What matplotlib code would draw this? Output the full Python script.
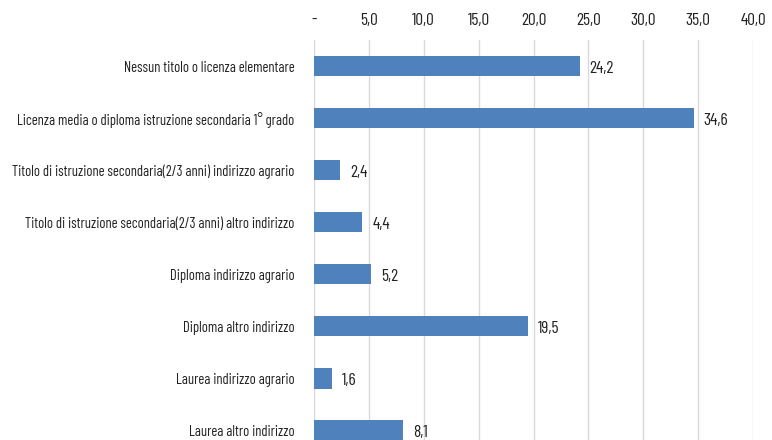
import matplotlib.pyplot as plt

# dati
categorie = [
    "Nessun titolo o licenza elementare",
    "Licenza media o diploma istruzione secondaria 1° grado",
    "Titolo di istruzione secondaria(2/3 anni) indirizzo agrario",
    "Titolo di istruzione secondaria(2/3 anni) altro indirizzo",
    "Diploma indirizzo agrario",
    "Diploma altro indirizzo",
    "Laurea indirizzo agrario",
    "Laurea altro indirizzo",
]
valori = [24.2, 34.6, 2.4, 4.4, 5.2, 19.5, 1.6, 8.1]
tick_valori = [0, 5, 10, 15, 20, 25, 30, 35, 40]
tick_etichette = ["-", "5,0", "10,0", "15,0", "20,0", "25,0", "30,0", "35,0", "40,0"]

plt.rcParams['font.family'] = ['Barlow Condensed', 'DejaVu Sans']

fig = plt.figure(figsize=(7.72, 4.4), dpi=100)
ax = fig.add_axes([314 / 772, 0, 439 / 772, 400 / 440])

y = list(range(len(categorie)))
ax.barh(y, valori, height=0.4, color='#4f81bd', zorder=3)

for yi, v in zip(y, valori):
    ax.text(v + 0.9, yi + 0.05, f"{v:.1f}".replace(".", ","), va='center', ha='left',
            fontsize=12.5, color='#222222')

ax.set_xlim(0, 40)
ax.set_ylim(7.19, -0.5)
ax.set_yticks(y)
ax.set_yticklabels(categorie, fontsize=10.5, color='#222222')
ax.set_xticks(tick_valori)
ax.set_xticklabels(tick_etichette, fontsize=12.5, color='#222222')
ax.xaxis.tick_top()
ax.tick_params(axis='both', length=0)
ax.tick_params(axis='x', pad=9)
ax.tick_params(axis='y', pad=14)

ax.grid(axis='x', color='#d9d9d9', linewidth=1, zorder=0)
for s in ['top', 'right', 'bottom']:
    ax.spines[s].set_visible(False)
ax.spines['left'].set_color('#d9d9d9')

fig.savefig('out.png', dpi=100)
